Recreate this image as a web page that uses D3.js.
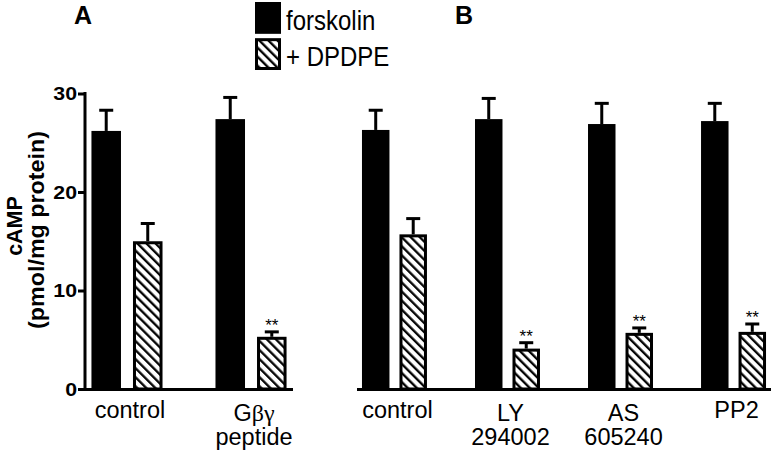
<!DOCTYPE html>
<html><head><meta charset="utf-8">
<script src="https://cdn.jsdelivr.net/npm/d3@7"></script>
<style>
html,body{margin:0;padding:0;background:#fff;}
svg{display:block;font-family:"Liberation Sans",Arial,sans-serif;}
</style></head>
<body>
<svg id="chart" width="771" height="451"></svg>
<script>
// ---------- data ----------
const seriesNames = ["forskolin", "+ DPDPE"];
const categoriesA = ["control", "Gβγ peptide"];
const labelLinesA = [["control"], ["Gβγ", "peptide"]];
const forskolinA = [26.2, 27.4];
const forskolinA_sem = [2.1, 2.2];
const dpdpeA = [15.0, 5.3];
const dpdpeA_sem = [1.8, 0.5];
const signifA = ["", "**"];

const categoriesB = ["control", "LY 294002", "AS 605240", "PP2"];
const labelLinesB = [["control"], ["LY", "294002"], ["AS", "605240"], ["PP2"]];
const forskolinB = [26.3, 27.4, 26.9, 27.2];
const forskolinB_sem = [2.0, 2.1, 2.1, 1.8];
const dpdpeB = [15.7, 4.1, 5.7, 5.8];
const dpdpeB_sem = [1.6, 0.6, 0.5, 0.8];
const signifB = ["", "**", "**", "**"];

const yTicks = [0, 10, 20, 30];
const yLabel1 = "cAMP";
const yLabel2 = "(pmol/mg protein)";
const panelLetters = ["A", "B"];

// ---------- layout ----------
const svg = d3.select("#chart");
const y = d3.scaleLinear().domain([0, 30]).range([389, 93.5]);

const defs = svg.append("defs");
const pat = defs.append("pattern").attr("id", "hatch")
  .attr("patternUnits", "userSpaceOnUse").attr("width", 6.4).attr("height", 6.4)
  .attr("patternTransform", "rotate(-45)");
pat.append("rect").attr("width", 6.4).attr("height", 6.4).attr("fill", "#fff");
pat.append("line").attr("x1", 1.2).attr("y1", -1).attr("x2", 1.2).attr("y2", 8)
  .attr("stroke", "#000").attr("stroke-width", 2.3);

function greekRuns(textSel, str) {
  const re = /([\u0370-\u03FF]+)|([^\u0370-\u03FF]+)/g;
  let m;
  while ((m = re.exec(str)) !== null) {
    const t = textSel.append("tspan").text(m[0]);
    if (m[1]) t.attr("font-family", "'Liberation Serif','DejaVu Serif',serif").attr("font-size", 24);
  }
}

function drawPanel(cfg) {
  const x0 = d3.scaleBand().domain(cfg.categories).range(cfg.range)
    .paddingInner(cfg.pi).paddingOuter(cfg.po);
  const x1 = d3.scaleBand().domain(seriesNames).range([0, x0.bandwidth()])
    .paddingInner(cfg.spi).paddingOuter(0);
  const g = svg.append("g");

  g.append("line").attr("x1", cfg.range[0]).attr("x2", cfg.range[1])
    .attr("y1", y(0) + 0.5).attr("y2", y(0) + 0.5)
    .attr("stroke", "#000").attr("stroke-width", 3);

  const rows = cfg.categories.map((c, i) => ({
    cat: c,
    vals: [
      {s: seriesNames[0], v: cfg.fors[i], e: cfg.forsSem[i], sig: ""},
      {s: seriesNames[1], v: cfg.dp[i], e: cfg.dpSem[i], sig: cfg.sig[i]}
    ],
    lines: cfg.labels[i]
  }));

  const grp = g.selectAll("g.grp").data(rows).join("g")
    .attr("transform", d => `translate(${x0(d.cat)},0)`);

  const bw = x1.bandwidth();
  const bars = grp.selectAll("g.bar").data(d => d.vals).join("g");

  bars.append("line")
    .attr("x1", d => x1(d.s) + bw / 2).attr("x2", d => x1(d.s) + bw / 2)
    .attr("y1", d => y(d.v)).attr("y2", d => y(d.v + d.e))
    .attr("stroke", "#000").attr("stroke-width", 3);
  bars.append("line")
    .attr("x1", d => x1(d.s) + bw / 2 - 7).attr("x2", d => x1(d.s) + bw / 2 + 7)
    .attr("y1", d => y(d.v + d.e)).attr("y2", d => y(d.v + d.e))
    .attr("stroke", "#000").attr("stroke-width", 3);

  bars.append("rect")
    .attr("x", d => x1(d.s) + (d.s === seriesNames[0] ? 0 : 1.5))
    .attr("y", d => y(d.v) + (d.s === seriesNames[0] ? 0 : 1.5))
    .attr("width", d => bw - (d.s === seriesNames[0] ? 0 : 3))
    .attr("height", d => y(0) - y(d.v) - (d.s === seriesNames[0] ? 0 : 1.5))
    .attr("fill", d => d.s === seriesNames[0] ? "#000" : "url(#hatch)")
    .attr("stroke", d => d.s === seriesNames[0] ? "none" : "#000")
    .attr("stroke-width", 3);

  bars.filter(d => d.sig).append("text")
    .attr("x", d => x1(d.s) + bw / 2).attr("y", d => y(d.v + d.e) - 1)
    .attr("text-anchor", "middle").attr("font-size", 17).text(d => d.sig);

  grp.each(function (d) {
    const cx = x0.bandwidth() / 2 + 3;
    const n = d.lines.length;
    d.lines.forEach((ln, k) => {
      const t = d3.select(this).append("text")
        .attr("x", cx)
        .attr("y", n === 1 ? 418 : 421 + k * 24)
        .attr("text-anchor", "middle").attr("font-size", 23.5);
      greekRuns(t, ln);
    });
  });
}

drawPanel({categories: categoriesA, labels: labelLinesA, range: [85, 293], pi: 0.427, po: 0.052, spi: 0.289,
  fors: forskolinA, forsSem: forskolinA_sem, dp: dpdpeA, dpSem: dpdpeA_sem, sig: signifA});
drawPanel({categories: categoriesB, labels: labelLinesB, range: [357, 771], pi: 0.425, po: 0.044, spi: 0.267,
  fors: forskolinB, forsSem: forskolinB_sem, dp: dpdpeB, dpSem: dpdpeB_sem, sig: signifB});

// y axis
const ax = svg.append("g").attr("transform", "translate(85,0)")
  .call(d3.axisLeft(y).tickValues(yTicks).tickSize(7).tickSizeOuter(0).tickPadding(1));
ax.select(".domain").attr("stroke-width", 3).attr("d", `M0,${y(0) + 2}V${y(30) - 1.5}`);
ax.selectAll(".tick line").attr("stroke-width", 3);
ax.selectAll(".tick text").attr("font-size", 19).attr("font-weight", "bold")
  .attr("font-family", "'Liberation Sans',Arial,sans-serif").attr("fill", "#000")
  .each(function () {
    const L = this.getComputedTextLength();
    d3.select(this).attr("textLength", L * 1.12).attr("lengthAdjust", "spacingAndGlyphs");
  });

// y label
const yl = svg.append("g").attr("font-weight", "bold").attr("text-anchor", "middle");
yl.append("text").attr("transform", "translate(22,226) rotate(-90)")
  .attr("font-size", 21.5).text(yLabel1);
yl.append("text").attr("transform", "translate(44,230) rotate(-90)")
  .attr("font-size", 21.5).attr("textLength", 198).attr("lengthAdjust", "spacingAndGlyphs").text(yLabel2);

// panel letters
svg.append("text").attr("x", 74).attr("y", 24).attr("font-size", 25).attr("font-weight", "bold").text(panelLetters[0]);
svg.append("text").attr("x", 455).attr("y", 24).attr("font-size", 25).attr("font-weight", "bold").text(panelLetters[1]);

// legend
const leg = svg.append("g");
const legY = d3.scaleBand().domain(seriesNames).range([2, 70]).paddingInner(0.12);
leg.selectAll("rect").data(seriesNames).join("rect")
  .attr("x", d => d === seriesNames[0] ? 255 : 256.5)
  .attr("y", d => legY(d) + (d === seriesNames[0] ? 0 : 1.5))
  .attr("width", d => d === seriesNames[0] ? 26 : 23)
  .attr("height", d => legY.bandwidth() - (d === seriesNames[0] ? 0 : 3))
  .attr("fill", d => d === seriesNames[0] ? "#000" : "url(#hatch)")
  .attr("stroke", d => d === seriesNames[0] ? "none" : "#000").attr("stroke-width", 3);
leg.selectAll("text").data(seriesNames).join("text")
  .attr("transform", d => `translate(286,${legY(d) + legY.bandwidth() - 4}) scale(1,1.12)`)
  .attr("font-size", 24).text(d => d);
</script>
</body></html>
